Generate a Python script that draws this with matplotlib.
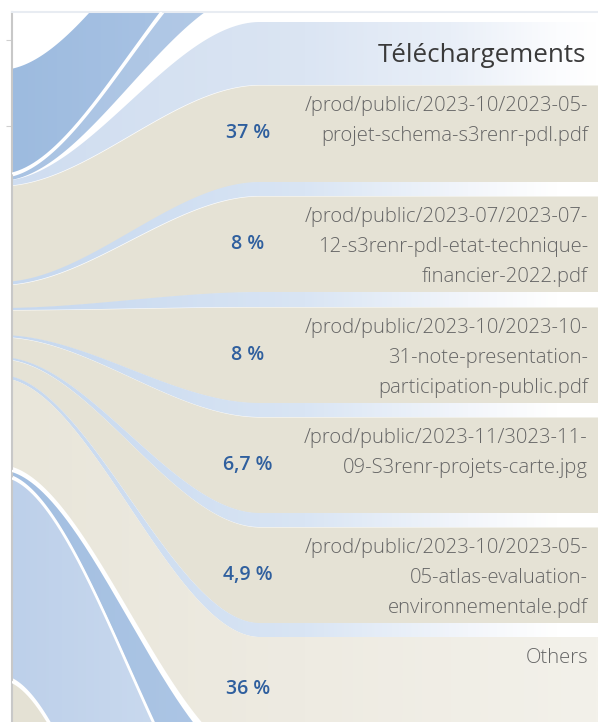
import numpy as np
import matplotlib.pyplot as plt
from matplotlib.patches import Polygon
from matplotlib.colors import LinearSegmentedColormap

plt.rcParams['font.family'] = ['Open Sans', 'DejaVu Sans']

# --- data (pixel layout of the cropped sankey) ---
title = 'Téléchargements'
labels = [
    '/prod/public/2023-10/2023-05-\nprojet-schema-s3renr-pdl.pdf',
    '/prod/public/2023-07/2023-07-\n12-s3renr-pdl-etat-technique-\nfinancier-2022.pdf',
    '/prod/public/2023-10/2023-10-\n31-note-presentation-\nparticipation-public.pdf',
    '/prod/public/2023-11/3023-11-\n09-S3renr-projets-carte.jpg',
    '/prod/public/2023-10/2023-05-\n05-atlas-evaluation-\nenvironnementale.pdf',
    'Others',
]
shares = ['37 %', '8 %', '8 %', '6,7 %', '4,9 %', '36 %']

# right-hand nodes
node_top = [85, 196, 307, 417, 527, 637]
node_bot = [182, 292, 403, 513, 623, 740]
# where each link leaves the left node
left_top = [186, 285, 310, 337, 359, 378]
left_bot = [282, 308, 335, 357, 375, 465]
others_link_bot = 760

# header node "Téléchargements"
head_left = (181, 186)
head_right = (22, 85)

# links leaving upwards / downwards out of view
up_left = [(70, 175), (178, 181)]
up_right = [(-140, -66), (-60, -10)]
low_left = [(469, 473), (476, 675), (679, 950)]
low_right = [(770, 861), (866, 1150), (1160, 1700)]

X_LEFT, X_CURVE = 0, 260

fig = plt.figure(figsize=(5.98, 7.22), dpi=100)
ax = fig.add_axes([12 / 598, 0, 586 / 598, 710 / 722])
xs = np.linspace(12, 598, 900)


def edge(y0, y1):
    t = np.clip((xs - X_LEFT) / (X_CURVE - X_LEFT), 0, 1)
    return y0 + (y1 - y0) * t * t * (3 - 2 * t)


def grad_band(top, bot, stops, z=1):
    verts = np.concatenate([np.c_[xs, top], np.c_[xs[::-1], bot[::-1]]])
    poly = Polygon(verts, closed=True, fc='none', ec='none')
    ax.add_patch(poly)
    cmap = LinearSegmentedColormap.from_list('g', stops)
    im = ax.imshow(np.linspace(0, 1, 512)[None, :], cmap=cmap, aspect='auto',
                   extent=(12, 598, 722, 12), zorder=z, interpolation='bilinear')
    im.set_clip_path(poly)


gap_stops = [(0, '#c6d8ef'), (0.5, '#d9e5f4'), (0.78, '#f3f6fb'), (0.93, '#ffffff'), (1, '#ffffff')]
head_stops = [(0, '#cfddf0'), (0.5, '#dbe5f3'), (0.75, '#e9eff8'), (0.93, '#fbfcfe'), (1, '#ffffff')]
beige = '#e5e2d5'

# upper blue links
up_stops = [[(0, '#9dbbdf'), (0.3, '#a9c3e4'), (1, '#bfd2eb')],
            [(0, '#a9c3e3'), (0.35, '#b2c9e6'), (1, '#c5d6ed')]]
for (l0, l1), (r0, r1), st in zip(up_left, up_right, up_stops):
    grad_band(edge(l0, r0), edge(l1, r1), st)

# header
grad_band(edge(head_left[0], head_right[0]), edge(head_left[1], head_right[1]), head_stops)

# beige links and blue gaps between them
for i in range(len(node_top)):
    top = edge(left_top[i], node_top[i])
    if i < len(node_top) - 1:
        ax.fill_between(xs, top, edge(left_bot[i], node_bot[i]), color=beige, lw=0, zorder=1)
        grad_band(edge(left_bot[i], node_bot[i]), edge(left_top[i + 1], node_top[i + 1]), gap_stops)
    else:
        grad_band(top, edge(left_bot[i], others_link_bot),
                  [(0, '#e9e6da'), (0.5, '#eeebe2'), (1, '#f3f1ea')])

# lower links
low_cols = [[(0, '#a3bfe1'), (0.35, '#adc6e5'), (1, '#b8cde8')],
            [(0, '#bdd0ea'), (0.25, '#c9d9ee'), (1, '#d5e2f2')],
            [(0, '#e4e1d4'), (1, '#e8e5d9')]]
for (l0, l1), (r0, r1), st in zip(low_left, low_right, low_cols):
    grad_band(edge(l0, r0), edge(l1, r1), st)
for (l0, l1), (r0, r1) in zip(low_left, low_right):
    ax.plot(xs, edge(l0, r0), color='white', lw=1.6, zorder=3)
ax.plot(xs, edge(up_left[0][1], up_right[0][1]), color='white', lw=1.4, zorder=3)

# text
ax.text(586, 56, title, ha='right', va='center', fontsize=18.6, color='#3a3a3a', zorder=5)
for i, (lab, sh) in enumerate(zip(labels, shares)):
    ax.text(588, node_top[i] + 11, lab, ha='right', va='top', fontsize=14.6,
            fontweight='light', color='#666666', linespacing=1.66, zorder=5)
    ax.text(248, (node_top[i] + node_bot[i]) / 2, sh, ha='center', va='center',
            fontsize=14, fontweight='semibold', color='#2f5f9e', zorder=5)

ax.set_xlim(12, 598)
ax.set_ylim(722, 12)
for s in ['right', 'bottom']:
    ax.spines[s].set_visible(False)
ax.spines['left'].set_color('#c8c8c8')
ax.spines['left'].set_linewidth(1.5)
ax.spines['top'].set_color('#e8ecf2')
ax.spines['top'].set_linewidth(1.5)
ax.set_xticks([])
ax.set_yticks([40, 126])
ax.set_yticklabels([])
ax.tick_params(axis='y', length=4, color='#d0d0d0')

fig.savefig('out.png', dpi=100, facecolor='white')
